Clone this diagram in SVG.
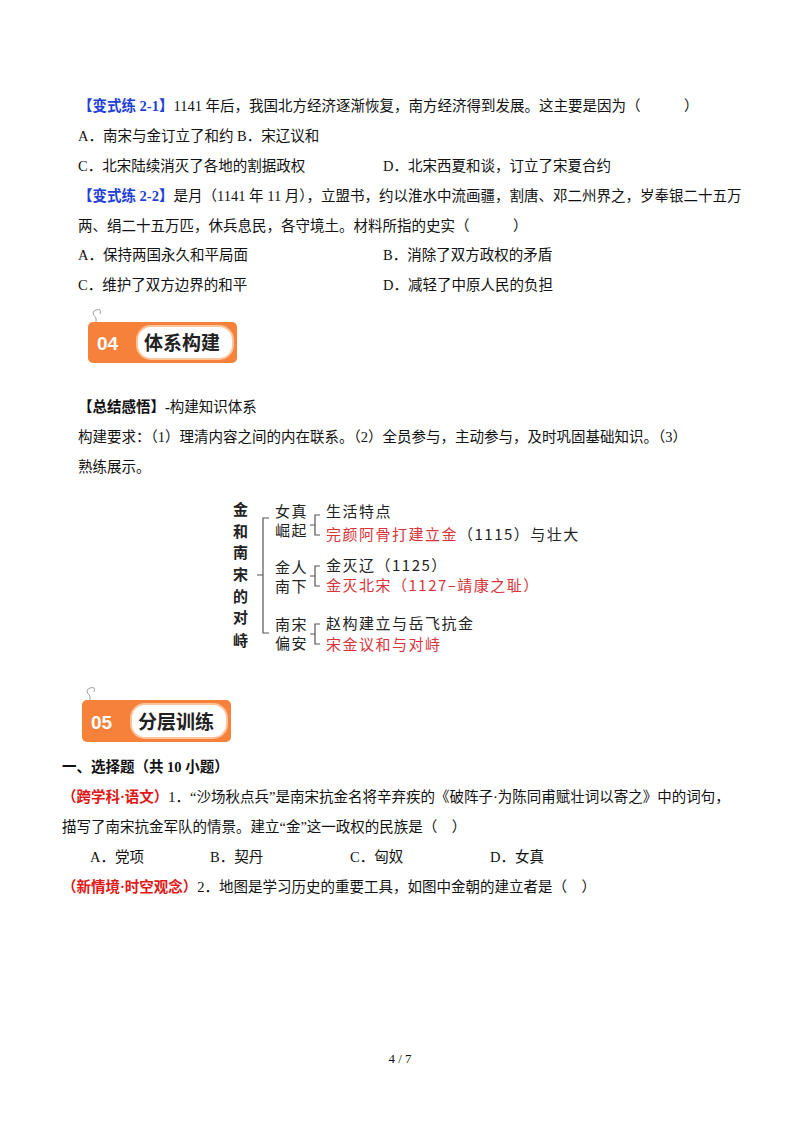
<svg xmlns="http://www.w3.org/2000/svg" width="800" height="1132" viewBox="0 0 800 1132">
<style>
text{font-family:"Liberation Serif","Noto Sans CJK SC",serif;font-size:14.5px;fill:#111}
.b{font-weight:bold}
.blue{fill:#1f3fd6;font-weight:bold}
.red{fill:#e01818;font-weight:bold}
.d{font-family:"Noto Sans CJK SC",sans-serif;font-size:15px;letter-spacing:1.5px;fill:#222}
.dr{fill:#d8343a}
.br{fill:none;stroke:#555;stroke-width:1.2}
.bt{font-family:"Noto Sans CJK SC",sans-serif;font-weight:bold;font-size:19px;fill:#222}
.bn{font-family:"Liberation Sans",sans-serif;font-weight:bold;font-size:19px;fill:#fff}
</style>
<rect width="800" height="1132" fill="#fff"/>
<text x="78" y="111"><tspan class="blue">【变式练 2-1】</tspan>1141 年后，我国北方经济逐渐恢复，南方经济得到发展。这主要是因为（　　　）</text>
<text x="78" y="141">A．南宋与金订立了和约 B．宋辽议和</text>
<text x="78" y="171">C．北宋陆续消灭了各地的割据政权</text>
<text x="383" y="171">D．北宋西夏和谈，订立了宋夏合约</text>
<text x="78" y="201"><tspan class="blue">【变式练 2-2】</tspan>是月（1141 年 11 月），立盟书，约以淮水中流画疆，割唐、邓二州界之，岁奉银二十五万</text>
<text x="78" y="231">两、绢二十五万匹，休兵息民，各守境土。材料所指的史实（　　　）</text>
<text x="78" y="260">A．保持两国永久和平局面</text>
<text x="383" y="260">B．消除了双方政权的矛盾</text>
<text x="78" y="290">C．维护了双方边界的和平</text>
<text x="383" y="290">D．减轻了中原人民的负担</text>

<g id="badge04">
<path d="M96 318 q-6 -6 0 -8 q6 -2 4 4 M96 318 v10" fill="none" stroke="#888" stroke-width="0.8"/>
<rect x="88" y="322" width="149" height="41" rx="5" fill="#f5813a"/>
<rect x="137" y="326" width="96" height="33" rx="14" fill="#fff" stroke="#fbc49a" stroke-width="2"/>
<text class="bn" x="97" y="350">04</text>
<text class="bt" x="144" y="350">体系构建</text>
</g>

<text x="78" y="412"><tspan class="b">【总结感悟】-</tspan>构建知识体系</text>
<text x="78" y="442">构建要求：（1）理清内容之间的内在联系。（2）全员参与，主动参与，及时巩固基础知识。（3）</text>
<text x="78" y="472">熟练展示。</text>

<g id="knowledge-map">
<g id="root" font-weight="bold">
<text class="d" x="233" y="515" style="font-weight:bold">金</text>
<text class="d" x="233" y="537" style="font-weight:bold">和</text>
<text class="d" x="233" y="558" style="font-weight:bold">南</text>
<text class="d" x="233" y="580" style="font-weight:bold">宋</text>
<text class="d" x="233" y="602" style="font-weight:bold">的</text>
<text class="d" x="233" y="623" style="font-weight:bold">对</text>
<text class="d" x="233" y="646" style="font-weight:bold">峙</text>
</g>
<g id="connectors">
<path class="br" d="M269 518 H263 V633 H269 M257 575 H263"/>
<path class="br" d="M320 515 H315 V535 H320 M310 525 H315"/>
<path class="br" d="M320 566 H315 V586 H320 M310 576 H315"/>
<path class="br" d="M320 624 H315 V644 H320 M310 634 H315"/>
</g>
<g id="g1"><text class="d" x="275" y="517">女真</text><text class="d" x="275" y="536">崛起</text></g>
<g id="g1a"><text class="d" x="326" y="517">生活特点</text></g>
<g id="g1b"><text class="d" x="326" y="540"><tspan class="dr">完颜阿骨打建立金</tspan>（1115）与壮大</text></g>
<g id="g2"><text class="d" x="275" y="573">金人</text><text class="d" x="275" y="592">南下</text></g>
<g id="g2a"><text class="d" x="326" y="571">金灭辽（1125）</text></g>
<g id="g2b"><text class="d dr" x="326" y="591">金灭北宋（1127–靖康之耻）</text></g>
<g id="g3"><text class="d" x="275" y="630">南宋</text><text class="d" x="275" y="649">偏安</text></g>
<g id="g3a"><text class="d" x="326" y="629">赵构建立与岳飞抗金</text></g>
<g id="g3b"><text class="d dr" x="326" y="650">宋金议和与对峙</text></g>
</g>

<g id="badge05">
<path d="M90 696 q-6 -6 0 -8 q6 -2 4 4 M90 696 v10" fill="none" stroke="#888" stroke-width="0.8"/>
<rect x="82" y="700" width="149" height="42" rx="5" fill="#f5813a"/>
<rect x="131" y="704" width="96" height="34" rx="14" fill="#fff" stroke="#fbc49a" stroke-width="2"/>
<text class="bn" x="91" y="729">05</text>
<text class="bt" x="138" y="729">分层训练</text>
</g>

<text x="62" y="772" class="b">一、选择题（共 10 小题）</text>
<text x="62" y="802"><tspan class="red">（跨学科·语文）</tspan>1．“沙场秋点兵”是南宋抗金名将辛弃疾的《破阵子·为陈同甫赋壮词以寄之》中的词句，</text>
<text x="62" y="832">描写了南宋抗金军队的情景。建立“金”这一政权的民族是（　）</text>
<text x="90" y="862">A．党项</text>
<text x="210" y="862">B．契丹</text>
<text x="350" y="862">C．匈奴</text>
<text x="490" y="862">D．女真</text>
<text x="62" y="892"><tspan class="red">（新情境·时空观念）</tspan>2．地图是学习历史的重要工具，如图中金朝的建立者是（　）</text>

<text x="400" y="1063" text-anchor="middle" style="font-size:13px">4 / 7</text>
</svg>
